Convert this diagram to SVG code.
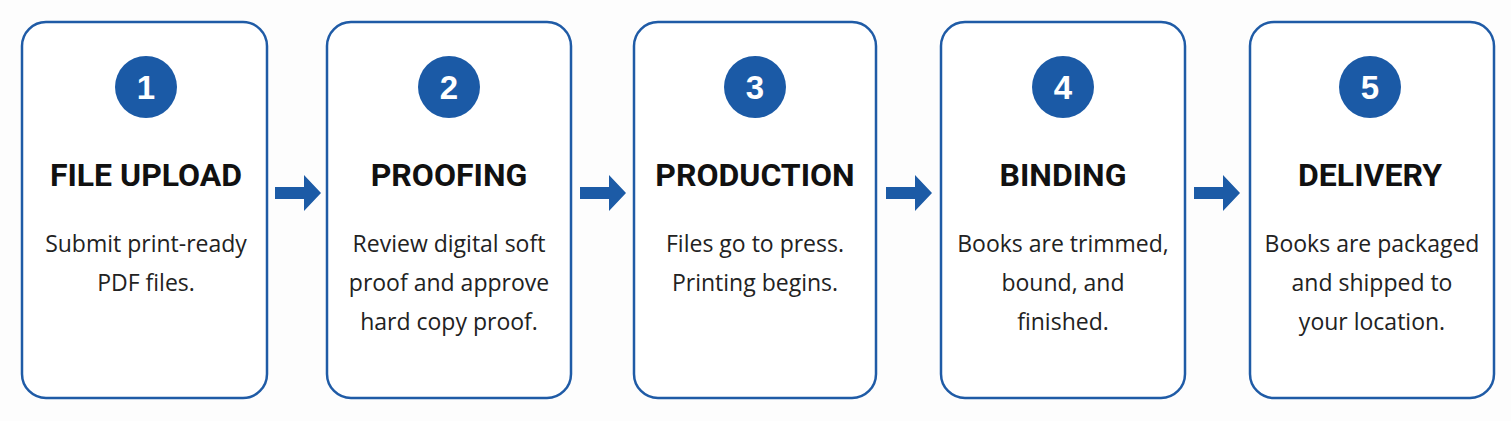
<svg xmlns="http://www.w3.org/2000/svg" width="1511" height="421" viewBox="0 0 1511 421">
<style>
.box{fill:#fff;stroke:#1f5ba6;stroke-width:2.5}
.num{fill:#1b5aa6}
.n{font-family:"Liberation Sans",Arial,sans-serif;font-weight:bold;font-size:33px;fill:#fff;text-anchor:middle}
.t{font-family:Roboto,"Liberation Sans",sans-serif;font-weight:bold;font-size:32px;fill:#111;text-anchor:middle}
.b{font-family:"Open Sans","Liberation Sans",sans-serif;font-size:23px;fill:#222;text-anchor:middle}
.arr{fill:#1c5ba6}
</style>
<rect width="1511" height="421" fill="#fdfdfd"/>
<g id="n1"><rect class="box" x="22" y="22" width="245" height="376" rx="24"/><circle class="num" cx="146" cy="87" r="31"/><text class="n" x="146" y="99">1</text><text class="t" x="146" y="186">FILE UPLOAD</text><text class="b" x="146" y="252">Submit print-ready</text><text class="b" x="146" y="291">PDF files.</text></g>
<g id="n2"><rect class="box" x="327" y="22" width="244" height="376" rx="24"/><circle class="num" cx="449" cy="87" r="31"/><text class="n" x="449" y="99">2</text><text class="t" x="449" y="186">PROOFING</text><text class="b" x="449" y="252">Review digital soft</text><text class="b" x="449" y="291">proof and approve</text><text class="b" x="449" y="330">hard copy proof.</text></g>
<g id="n3"><rect class="box" x="634" y="22" width="242" height="376" rx="24"/><circle class="num" cx="755" cy="87" r="31"/><text class="n" x="755" y="99">3</text><text class="t" x="755" y="186">PRODUCTION</text><text class="b" x="755" y="252">Files go to press.</text><text class="b" x="755" y="291">Printing begins.</text></g>
<g id="n4"><rect class="box" x="941" y="22" width="244" height="376" rx="24"/><circle class="num" cx="1063" cy="87" r="31"/><text class="n" x="1063" y="99">4</text><text class="t" x="1063" y="186">BINDING</text><text class="b" x="1063" y="252">Books are trimmed,</text><text class="b" x="1063" y="291">bound, and</text><text class="b" x="1063" y="330">finished.</text></g>
<g id="n5"><rect class="box" x="1250" y="22" width="244" height="376" rx="24"/><circle class="num" cx="1370" cy="87" r="31"/><text class="n" x="1370" y="99">5</text><text class="t" x="1370" y="186">DELIVERY</text><text class="b" x="1372" y="252">Books are packaged</text><text class="b" x="1372" y="291">and shipped to</text><text class="b" x="1372" y="330">your location.</text></g>
<g id="connectors">
<path class="arr" d="M275 187h29v-12l17 18-17 18v-12h-29z"/>
<path class="arr" d="M580 187h29v-12l17 18-17 18v-12h-29z"/>
<path class="arr" d="M886 187h29v-12l17 18-17 18v-12h-29z"/>
<path class="arr" d="M1194 187h29v-12l17 18-17 18v-12h-29z"/>
</g>
</svg>
